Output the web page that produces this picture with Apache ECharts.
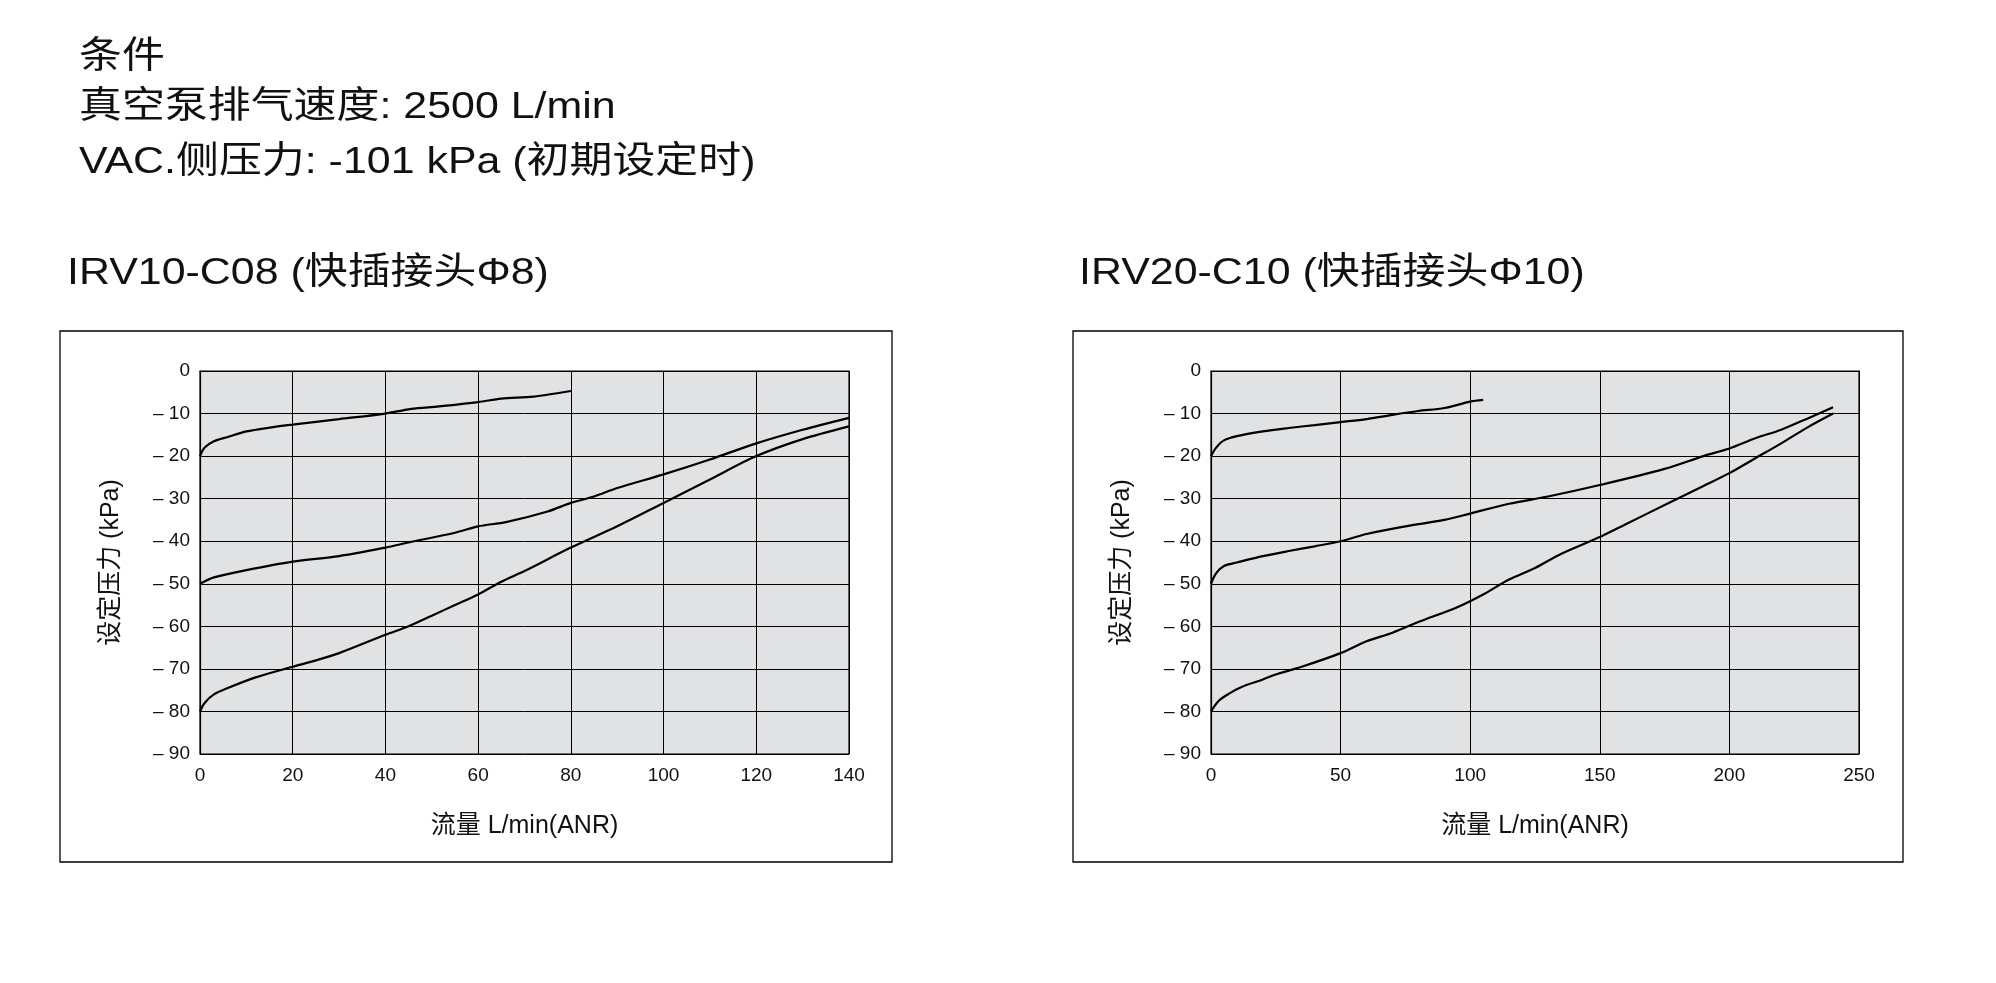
<!DOCTYPE html>
<html><head><meta charset="utf-8">
<script src="https://cdn.jsdelivr.net/npm/echarts@6/dist/echarts.min.js"></script>
<style>html,body{margin:0;padding:0;background:#fff}#c{width:1996px;height:983px}</style>
</head><body><div id="c"></div>
<script>
const condLines = ['条件', '真空泵排气速度: 2500 L/min', 'VAC.侧压力: -101 kPa (初期设定时)'];
const titleLeft = 'IRV10-C08 (快插接头Φ8)';
const titleRight = 'IRV20-C10 (快插接头Φ10)';
const yName = '设定压力 (kPa)';
const xName = '流量 L/min(ANR)';
const leftA = [[0,-20],[1,-18],[3,-16.5],[6,-15.5],[10,-14.2],[15,-13.3],[20,-12.6],[30,-11.3],[40,-10],[45,-9],[50,-8.5],[60,-7.3],[65,-6.5],[72,-6],[80,-4.7]];
const leftB = [[0,-50],[3,-48.5],[10,-46.8],[20,-44.8],[30,-43.5],[40,-41.5],[45,-40.3],[55,-38],[60,-36.5],[66,-35.5],[75,-33],[80,-31],[85,-29.5],[90,-27.5],[100,-24.3],[110,-20.8],[120,-17],[130,-13.8],[140,-11]];
const leftC = [[0,-80],[1,-78],[3,-76],[6,-74.5],[12,-72],[20,-69.5],[25,-68],[30,-66.3],[40,-62],[45,-60],[50,-57.5],[55,-55],[60,-52.5],[65,-49.5],[70,-47],[80,-41.5],[90,-36.5],[100,-31],[110,-25.5],[120,-20],[130,-16],[140,-13]];
const rightA = [[0,-20],[2,-18],[5,-16.3],[10,-15.3],[20,-14.2],[30,-13.4],[40,-12.7],[50,-12],[60,-11.3],[70,-10.3],[80,-9.4],[90,-8.7],[100,-7.2],[105,-6.8]];
const rightB = [[0,-50],[2,-47.5],[5,-45.8],[10,-45],[20,-43.5],[30,-42.3],[40,-41.2],[50,-40],[60,-38.3],[75,-36.5],[90,-35],[100,-33.5],[115,-31.2],[130,-29.5],[150,-26.8],[175,-23],[190,-20],[200,-18.2],[210,-15.8],[220,-13.8],[230,-11.2],[240,-8.5]];
const rightC = [[0,-80],[3,-77.5],[7,-75.8],[12,-74.2],[20,-72.5],[25,-71.3],[35,-69.5],[50,-66.3],[60,-63.5],[70,-61.5],[80,-59],[95,-55.5],[105,-52.5],[115,-49],[125,-46.3],[135,-43],[150,-39],[160,-36],[175,-31.5],[190,-27],[200,-24],[210,-20.5],[220,-17],[230,-13.3],[240,-10]];
const leftXMax = 140, leftXInt = 20, rightXMax = 250, rightXInt = 50;

const F = '"Liberation Sans","Noto Sans CJK SC",sans-serif';
const chart = echarts.init(document.getElementById('c'));
const lab = {color:'#111', fontSize:19, fontFamily:F};
function xAx(i,max,int){return {type:'value',gridIndex:i,min:0,max:max,interval:int,
  name:xName,nameLocation:'middle',nameGap:60,nameTextStyle:{color:'#111',fontSize:25,fontFamily:F},
  axisLine:{show:true,lineStyle:{color:'#000',width:1.2}},axisTick:{show:false},axisLabel:Object.assign({margin:12},lab),
  splitLine:{show:true,lineStyle:{color:'#000',width:1}}};}
function yAx(i){return {type:'value',gridIndex:i,min:-90,max:0,interval:10,
  name:yName,nameLocation:'middle',nameGap:76,nameRotate:90,nameTextStyle:{color:'#111',fontSize:25,fontFamily:F},
  axisLine:{show:true,lineStyle:{color:'#000',width:1.2}},axisTick:{show:false},
  axisLabel:Object.assign({margin:10,formatter:v=>v===0?'0':'\u2013 '+Math.abs(v)},lab),
  splitLine:{show:true,lineStyle:{color:'#000',width:1}}};}
function ser(d,i){return {type:'line',xAxisIndex:i,yAxisIndex:i,data:d,smooth:0.3,showSymbol:false,
  lineStyle:{color:'#000',width:2.2},silent:true};}
function txt(s,x,y){return {type:'text',x:x,y:y,scaleX:1.16,style:{text:s,fontSize:37,fontFamily:F,fill:'#111'}};}
chart.setOption({
  animation:false,
  graphic:[
    txt(condLines[0],79,39),
    txt(condLines[1],79,89),
    txt(condLines[2],79,144),
    txt(titleLeft,67,255),
    txt(titleRight,1079,255),
    {type:'rect',shape:{x:60,y:331,width:832,height:531},style:{fill:null,stroke:'#000',lineWidth:1.3},z:-1},
    {type:'rect',shape:{x:1073,y:331,width:830,height:531},style:{fill:null,stroke:'#000',lineWidth:1.3},z:-1}
  ],
  grid:[
    {left:200,top:371,width:649,height:383,show:true,backgroundColor:'#e1e2e4',borderColor:'#000',borderWidth:1.2},
    {left:1211,top:371,width:648,height:383,show:true,backgroundColor:'#e1e2e4',borderColor:'#000',borderWidth:1.2}
  ],
  xAxis:[xAx(0,leftXMax,leftXInt),xAx(1,rightXMax,rightXInt)],
  yAxis:[yAx(0),yAx(1)],
  series:[ser(leftA,0),ser(leftB,0),ser(leftC,0),ser(rightA,1),ser(rightB,1),ser(rightC,1)]
});
</script></body></html>
